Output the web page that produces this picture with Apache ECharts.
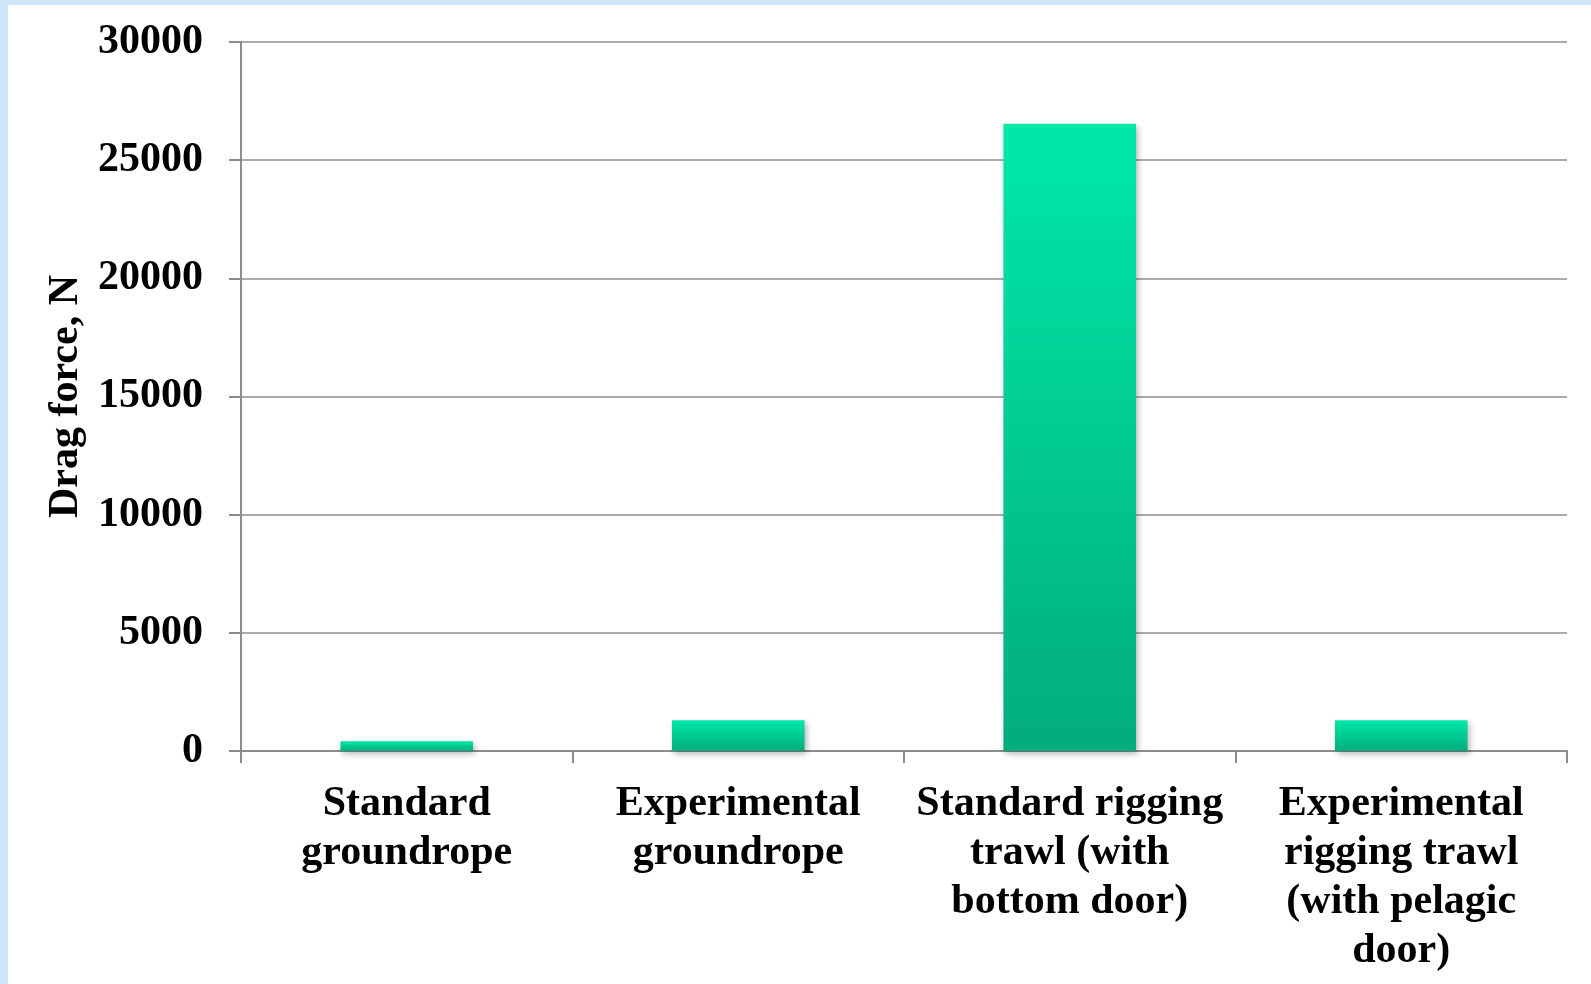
<!DOCTYPE html>
<html>
<head>
<meta charset="utf-8">
<title>Drag force</title>
<script src="https://cdn.jsdelivr.net/npm/echarts@6/dist/echarts.min.js"></script>
<style>
  html, body { margin: 0; padding: 0; background: #ffffff; }
  #chart { width: 1591px; height: 984px; }
</style>
</head>
<body>
<div id="chart"></div>
<script>
// Trawl configurations and their measured drag force (N)
const categories = [
  'Standard\ngroundrope',
  'Experimental\ngroundrope',
  'Standard rigging\ntrawl (with\nbottom door)',
  'Experimental\nrigging trawl\n(with pelagic\ndoor)'
];
const dragForce = [410, 1300, 26540, 1300];
const yAxisTitle = 'Drag force, N';

const serif = "'Liberation Serif', 'Times New Roman', serif";
const lineGrey = '#8c8c8c';

const chart = echarts.init(document.getElementById('chart'), null, { renderer: 'canvas' });

chart.setOption({
  backgroundColor: '#ffffff',
  animation: false,
  graphic: [
    // pale blue frame strips along the top and left edges
    { type: 'rect', left: 0, top: 0, z: 100, shape: { width: 1591, height: 5 },
      style: { fill: '#cde6fa' } },
    { type: 'rect', left: 0, top: 0, z: 100, shape: { width: 8, height: 984 },
      style: { fill: '#cfe7fb' } }
  ],
  grid: { left: 241, right: 24, top: 42, bottom: 233, containLabel: false },
  xAxis: {
    type: 'category',
    data: categories,
    axisLine: { show: true, lineStyle: { color: lineGrey, width: 2 } },
    axisTick: { show: true, length: 12, interval: 0, alignWithLabel: false,
                lineStyle: { color: lineGrey, width: 2 } },
    axisLabel: {
      interval: 0,
      margin: 29,
      color: '#000',
      fontFamily: serif,
      fontWeight: 'bold',
      fontSize: 42,
      lineHeight: 49,
      align: 'center'
    },
    splitLine: { show: false }
  },
  yAxis: {
    type: 'value',
    min: 0,
    max: 30000,
    interval: 5000,
    name: yAxisTitle,
    nameLocation: 'middle',
    nameRotate: 90,
    nameGap: 136,
    nameTextStyle: { color: '#000', fontFamily: serif, fontWeight: 'bold', fontSize: 42 },
    axisLine: { show: true, lineStyle: { color: lineGrey, width: 2 } },
    axisTick: { show: true, length: 12, lineStyle: { color: lineGrey, width: 2 } },
    axisLabel: {
      margin: 38,
      color: '#000',
      fontFamily: serif,
      fontWeight: 'bold',
      fontSize: 42,
      formatter: (v) => String(v)
    },
    splitLine: { show: true, lineStyle: { color: '#8f8f8f', width: 1.6 } }
  },
  series: [{
    type: 'bar',
    data: dragForce,
    barWidth: '40%',
    itemStyle: {
      color: new echarts.graphic.LinearGradient(0, 0, 0, 1, [
        { offset: 0, color: '#00e9a9' },
        { offset: 1, color: '#02ac7c' }
      ]),
      shadowColor: 'rgba(0, 0, 0, 0.28)',
      shadowBlur: 6,
      shadowOffsetX: 2,
      shadowOffsetY: 3
    }
  }]
});
</script>
</body>
</html>
